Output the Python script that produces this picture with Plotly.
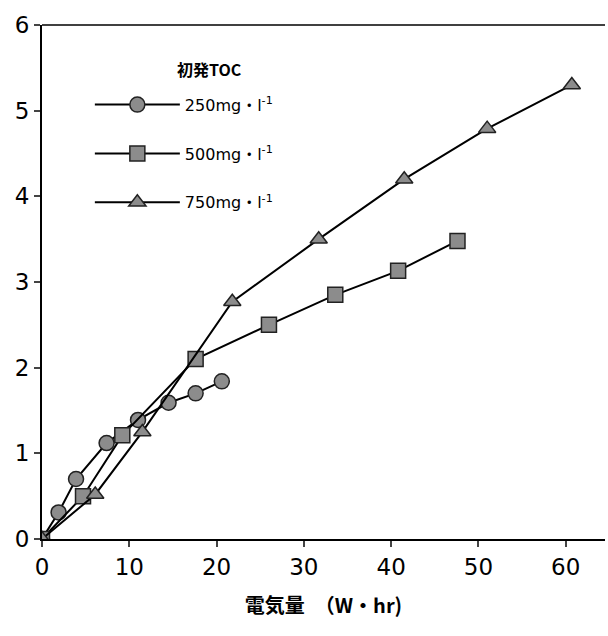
import plotly.graph_objects as go

x_250 = [0, 1.9, 3.9, 7.4, 11.0, 14.5, 17.6, 20.6]
y_250 = [0, 0.31, 0.70, 1.12, 1.39, 1.59, 1.70, 1.84]

x_500 = [0, 4.7, 9.2, 17.6, 26.0, 33.6, 40.8, 47.6]
y_500 = [0, 0.50, 1.21, 2.10, 2.50, 2.85, 3.13, 3.48]

x_750 = [0, 6.1, 11.5, 21.8, 31.7, 41.5, 51.0, 60.7]
y_750 = [0, 0.52, 1.25, 2.77, 3.50, 4.20, 4.79, 5.30]

names = ["250mg・l<sup>-1</sup>", "500mg・l<sup>-1</sup>", "750mg・l<sup>-1</sup>"]
symbols = ["circle", "square", "triangle-up"]
x_ticks = [0, 10, 20, 30, 40, 50, 60]
y_ticks = [0, 1, 2, 3, 4, 5, 6]

fig = go.Figure()
for i, (xs, ys) in enumerate([(x_250, y_250), (x_500, y_500), (x_750, y_750)]):
    fig.add_trace(go.Scatter(
        x=xs, y=ys, mode="lines+markers", name=names[i],
        legendgroup=f"g{i}",
        line=dict(color="black", width=2),
        marker=dict(symbol=symbols[i], size=15, color="#8c8c8c",
                    line=dict(color="#222", width=1.5)),
    ))

fig.update_layout(
    width=608, height=636,
    margin=dict(l=42, r=3, t=25, b=97),
    plot_bgcolor="white", paper_bgcolor="white",
    showlegend=True,
    legend=dict(x=0.085, y=0.878, xanchor="left", yanchor="top",
                tracegroupgap=25, bgcolor="rgba(0,0,0,0)",
                font=dict(family="DejaVu Sans, Noto Sans CJK JP", size=16, color="black"),
                itemwidth=85),
    font=dict(family="DejaVu Sans, Noto Sans CJK JP", color="black"),
    annotations=[dict(text="<b>初発TOC</b>", xref="paper", yref="paper", x=0.236, y=0.915,
                      xanchor="left", yanchor="middle", showarrow=False,
                      font=dict(family="Noto Sans CJK JP", size=16, color="black"))],
)
fig.update_xaxes(range=[0, 64.5], tickvals=x_ticks, ticks="outside", ticklen=6,
                 tickwidth=2, showline=True, linecolor="black", linewidth=2,
                 showgrid=False, zeroline=False, mirror=False,
                 tickfont=dict(size=23),
                 title=dict(text="<b>電気量　（W・hr)</b>", standoff=20,
                            font=dict(family="Noto Sans CJK JP", size=20)))
fig.update_yaxes(range=[0, 6], tickvals=y_ticks, ticks="outside", ticklen=6,
                 tickwidth=2, showline=True, linecolor="black", linewidth=2,
                 showgrid=False, zeroline=False, tickfont=dict(size=23))
fig.add_shape(type="line", xref="paper", yref="paper", x0=0, x1=1, y0=1, y1=1,
              line=dict(color="black", width=1.5))

fig.write_html("out.html")
